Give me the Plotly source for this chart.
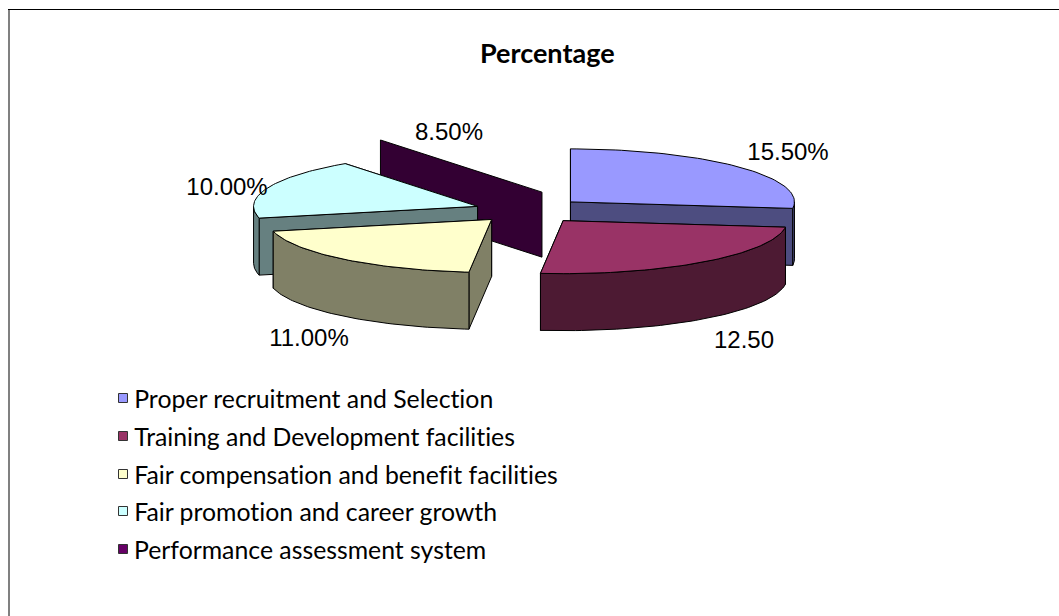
import numpy as np
import plotly.graph_objects as go

categories = ["Proper recruitment and Selection", "Training and Development facilities",
              "Fair compensation and benefit facilities", "Fair promotion and career growth",
              "Performance assessment system"]
values = [15.5, 12.5, 11.0, 10.0, 8.5]
value_labels = ["15.50%", "12.50", "11.00%", "10.00%", "8.50%"]
top_colors = ["#9999FF", "#993366", "#FFFFCC", "#CCFFFF", "#660066"]
wall_colors = ["#4D4D80", "#4D1A33", "#808066", "#668080", "#330033"]

# view parameters of the drawn 3-D pie (page pixels)
CX, CY = 527.0, 210.5
RX, RY = 224.0, 53.0
EX, EY = 58.0, 13.0
DEPTH = 57.0
explode = [1.0, 1.0, 0.92, 0.91, 1.0]
paint_order = [4, 3, 0, 2, 1]
warp_in = [0, 97, 175, 244, 307, 360]
warp_out = [0, 97, 185.5, 257, 324, 360]

label_x = [788, 744, 309, 227, 449]
label_y = [154, 342, 340, 189, 134]
legend_x, legend_text_x = 123, 132
legend_y = [398, 436, 474, 511, 549]

edges = np.cumsum([0] + values) / sum(values) * 360.0


def phi(theta):
    return np.interp(theta, warp_in, warp_out)


def pt(ap, theta, scale=1.0):
    p = np.radians(phi(theta))
    return ap[0] + scale * RX * np.sin(p), ap[1] - scale * RY * np.cos(p)


def arc(ap, t0, t1, n=60):
    th = np.linspace(t0, t1, n)
    p = np.radians(phi(th))
    return ap[0] + RX * np.sin(p), ap[1] - RY * np.cos(p)


fig = go.Figure()


def poly(xs, ys, color):
    fig.add_trace(go.Scatter(x=list(xs), y=list(ys), mode="lines", fill="toself",
                             fillcolor=color, line=dict(color="#000000", width=1),
                             hoverinfo="skip", showlegend=False))


for i in paint_order:
    t0, t1 = edges[i], edges[i + 1]
    pm = np.radians((phi(t0) + phi(t1)) / 2)
    ap = (CX + explode[i] * EX * np.sin(pm), CY - explode[i] * EY * np.cos(pm))
    if i == 4:
        # this slice only shows one cut wall in the reference
        ap = (ap[0] + 33, ap[1] - 6)
        x1, y1 = pt(ap, t0, 1.22)
        d = 65
        poly([ap[0], x1, x1, ap[0], ap[0]], [ap[1], y1, y1 + d, ap[1] + d, ap[1]], wall_colors[i])
        continue
    ends = sorted([pt(ap, t0), pt(ap, t1)], key=lambda q: q[1])
    for ex, ey in ends:
        poly([ap[0], ex, ex, ap[0], ap[0]], [ap[1], ey, ey + DEPTH, ap[1] + DEPTH, ap[1]], wall_colors[i])
    # outer wall: front-facing part of the rim
    lo = max(phi(t0), 90)
    hi = min(phi(t1), 270)
    if hi > lo:
        tt = np.radians(np.linspace(lo, hi, 60))
        ax = ap[0] + RX * np.sin(tt)
        ay = ap[1] - RY * np.cos(tt)
        poly(np.r_[ax, ax[::-1], ax[0]], np.r_[ay, ay[::-1] + DEPTH, ay[0]], wall_colors[i])
    ax, ay = arc(ap, t0, t1)
    poly(np.r_[ap[0], ax, ap[0]], np.r_[ap[1], ay, ap[1]], top_colors[i])

# value labels
fig.add_trace(go.Scatter(x=label_x, y=label_y, mode="text", text=value_labels,
                         textposition="middle center",
                         textfont=dict(family="Liberation Sans", size=24, color="#000000"),
                         hoverinfo="skip", showlegend=False))

# legend
fig.add_trace(go.Scatter(x=[legend_x] * 5, y=legend_y, mode="markers",
                         marker=dict(symbol="square", size=9, color=top_colors,
                                     line=dict(color="#333333", width=1)),
                         hoverinfo="skip", showlegend=False))
for name, y in zip(categories, legend_y):
    fig.add_annotation(x=legend_text_x, y=y, text=name, showarrow=False, xanchor="left",
                       yanchor="middle", font=dict(family="Lato", size=24.8, color="#000000"))

fig.add_annotation(x=547, y=52, text="<b>Percentage</b>", showarrow=False,
                   font=dict(family="Lato", size=27, color="#000000"))

fig.add_shape(type="line", x0=9, x1=9, y0=9, y1=616, line=dict(color="#808080", width=2), layer="below")
fig.add_shape(type="line", x0=8, x1=1059, y0=9.5, y1=9.5, line=dict(color="#000000", width=1), layer="below")

fig.update_layout(width=1059, height=616, margin=dict(l=0, r=0, t=0, b=0),
                  paper_bgcolor="#FFFFFF", plot_bgcolor="#FFFFFF", showlegend=False,
                  xaxis=dict(range=[0, 1059], visible=False, fixedrange=True),
                  yaxis=dict(range=[616, 0], visible=False, fixedrange=True))
post = ("document.body.style.margin='0';document.body.style.overflow='hidden';"
        "var s=document.createElement('style');"
        "s.textContent='text{font-variant-ligatures:none !important;font-feature-settings:\"liga\" 0 !important;}';"
        "document.head.appendChild(s);")
fig.write_html("out.html", config=dict(displayModeBar=False), post_script=post)
